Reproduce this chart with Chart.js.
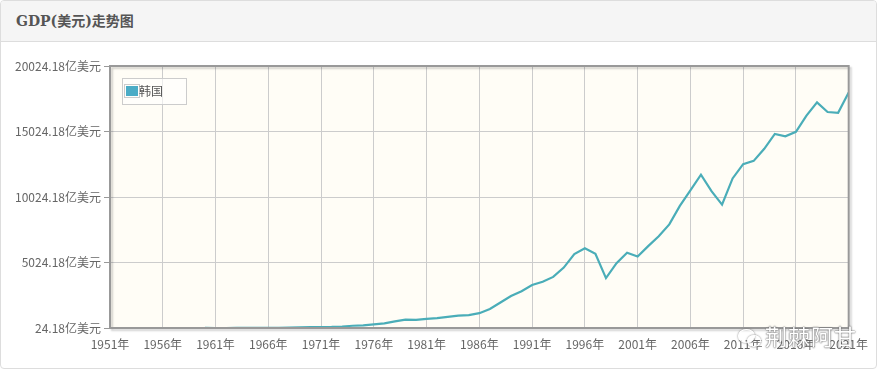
<!DOCTYPE html>
<html>
<head>
<meta charset="utf-8">
<script src="https://cdn.jsdelivr.net/npm/chart.js@4.4.1/dist/chart.umd.min.js"></script>
<style>
  body { margin: 0; background: #fff; }
  .panel { position: absolute; left: 0; top: 0; width: 875px; height: 367px;
           border: 1px solid #dddddd; border-radius: 4px; overflow: hidden; background: #fff; }
  .head { height: 40px; background: #f5f5f5; border-bottom: 1px solid #dddddd;
          font: bold 14px "DejaVu Serif", "Noto Sans CJK SC", serif; color: #555;
          line-height: 40px; padding-left: 15px; }
  .body { position: relative; height: 326px; }
  .mark { position: absolute; left: 764px; top: 277px; font: 22px "Noto Sans CJK SC", sans-serif;
          color: #fff; text-shadow: 0 0 2px #666, 0 0 1px #444; letter-spacing: 1px; }
  .bubble { position: absolute; width: 15px; height: 12px; border: 1.5px solid #fff;
            border-radius: 50%; box-shadow: 0 0 2px #666; }
</style>
</head>
<body>
<div class="panel">
  <div class="head">GDP(美元)走势图</div>
  <div class="body">
    <canvas id="gdp_chart" width="876" height="326"></canvas>
    <div class="bubble" style="left:737px; top:287px;"></div>
    <div class="bubble" style="left:746px; top:293px; width:12px; height:10px;"></div>
    <div class="mark">荆棘阿甘</div>
  </div>
</div>
<script>
// data (亿美元)
years = [1960,1961,1962,1963,1964,1965,1966,1967,1968,1969,
         1970,1971,1972,1973,1974,1975,1976,1977,1978,1979,
         1980,1981,1982,1983,1984,1985,1986,1987,1988,1989,
         1990,1991,1992,1993,1994,1995,1996,1997,1998,1999,
         2000,2001,2002,2003,2004,2005,2006,2007,2008,2009,
         2010,2011,2012,2013,2014,2015,2016,2017,2018,2019,
         2020,2021];
gdp_korea = [39.6,21.0,23.2,27.0,29.0,30.2,37.1,44.3,54.4,67.5,
             90.0,98.9,108.6,138.4,195.0,217.4,297.8,383.9,527.5,658.6,
             649.8,723.0,776.8,866.6,969.7,1004.7,1154.8,1473.9,1967.1,2466.2,
             2832.6,3303.2,3559.7,3924.3,4634.7,5662.1,6104.2,5695.6,3833.3,4972.0,
             5762.5,5477.6,6272.5,7025.0,7935.1,9343.0,10527.0,11726.9,10470.2,9439.6,
             11439.6,12534.3,12779.3,13705.7,14839.5,14653.4,15000.3,16233.0,17251.6,16510.1,
             16446.1,18000.0];
series_name = '韩国';
series_color = '#4aadb8';
x_ticks = [1951,1956,1961,1966,1971,1976,1981,1986,1991,1996,2001,2006,2011,2016,2021];
y_ticks = [24.18,5024.18,10024.18,15024.18,20024.18];

points = [];
for (i = 0; i < years.length; i++) {
    points.push({x: years[i], y: gdp_korea[i]});
}

// cream plot background + grey frame with shadow
var frame = {
    id: 'frame',
    beforeDraw: function(chart) {
        var a = chart.chartArea, ctx = chart.ctx;
        ctx.save();
        ctx.fillStyle = '#fffdf6';
        ctx.fillRect(a.left, a.top, a.right - a.left, a.bottom - a.top);
        ctx.restore();
    },
    afterDatasetsDraw: function(chart) {
        var a = chart.chartArea, ctx = chart.ctx;
        ctx.save();
        ctx.shadowColor = 'rgba(0,0,0,0.18)';
        ctx.shadowOffsetX = 2;
        ctx.shadowOffsetY = 2;
        ctx.shadowBlur = 2;
        ctx.strokeStyle = '#999999';
        ctx.lineWidth = 2;
        ctx.strokeRect(a.left, a.top, a.right - a.left, a.bottom - a.top);
        ctx.restore();

        // legend box inside plot
        var ds = chart.data.datasets[0];
        var lx = a.left + 12, ly = a.top + 12;
        ctx.save();
        ctx.fillStyle = 'rgba(255,255,255,0.6)';
        ctx.fillRect(lx, ly, 64, 26);
        ctx.strokeStyle = '#cccccc';
        ctx.lineWidth = 1;
        ctx.strokeRect(lx + 0.5, ly + 0.5, 64, 26);
        ctx.strokeRect(lx + 2.5, ly + 6.5, 15, 13);
        ctx.fillStyle = '#4bacc6';
        ctx.fillRect(lx + 4, ly + 8, 12, 10);
        ctx.fillStyle = '#555';
        ctx.font = '12px "Noto Sans CJK SC", sans-serif';
        ctx.textBaseline = 'middle';
        ctx.fillText(ds.label, lx + 17, ly + 13.5);
        ctx.restore();
    }
};

var chart = new Chart(document.getElementById('gdp_chart'), {
    type: 'line',
    data: {
        datasets: [{
            label: series_name,
            data: points,
            borderColor: series_color,
            backgroundColor: series_color,
            borderWidth: 2.2,
            pointRadius: 0,
            tension: 0,
            fill: false
        }]
    },
    options: {
        responsive: false,
        animation: false,
        layout: { padding: { left: 0, top: 24, right: 25, bottom: 0 } },
        plugins: {
            legend: { display: false },
            tooltip: { enabled: false }
        },
        scales: {
            x: {
                type: 'linear',
                min: 1951,
                max: 2021,
                afterBuildTicks: function(scale) {
                    scale.ticks = x_ticks.map(function(v) { return {value: v}; });
                },
                afterFit: function(scale) { scale.height = 40; },
                grid: { color: '#cccccc', drawTicks: false },
                border: { display: false },
                ticks: {
                    padding: 9,
                    color: '#666',
                    font: { size: 12, family: '"Noto Sans CJK SC", sans-serif' },
                    maxRotation: 0,
                    callback: function(v) { return v + '年'; }
                }
            },
            y: {
                min: 24.18,
                max: 20024.18,
                afterBuildTicks: function(scale) {
                    scale.ticks = y_ticks.map(function(v) { return {value: v}; });
                },
                afterFit: function(scale) { scale.width = 109; },
                grid: { color: '#cccccc', tickColor: '#999999', tickLength: 6 },
                border: { display: false },
                ticks: {
                    padding: 3,
                    color: '#666',
                    font: { size: 12, family: '"Noto Sans CJK SC", sans-serif' },
                    callback: function(v) { return v.toFixed(2) + '亿美元'; }
                }
            }
        }
    },
    plugins: [frame]
});
</script>
</body>
</html>
